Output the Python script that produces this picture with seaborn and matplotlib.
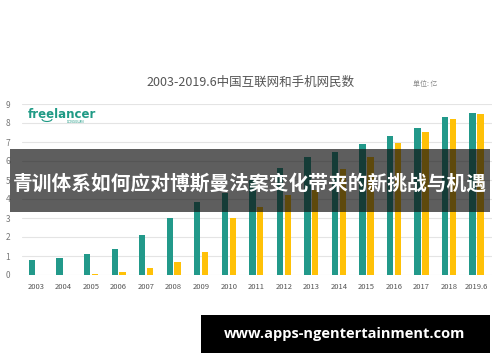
import matplotlib
matplotlib.use("Agg")
import matplotlib.pyplot as plt
from matplotlib.patches import Rectangle, Arc
import seaborn as sns
import pandas as pd

years = ['2003', '2004', '2005', '2006', '2007', '2008', '2009', '2010', '2011',
         '2012', '2013', '2014', '2015', '2016', '2017', '2018', '2019.6']
internet_users = [0.78, 0.92, 1.10, 1.36, 2.08, 2.98, 3.85, 4.30, 5.00,
                  5.65, 6.19, 6.50, 6.88, 7.32, 7.72, 8.29, 8.55]
mobile_users = [0.0, 0.0, 0.06, 0.14, 0.38, 0.67, 1.20, 3.02, 3.56,
                4.21, 4.50, 5.57, 6.22, 6.96, 7.54, 8.19, 8.49]
yticks = list(range(0, 10))

title_text = "2003-2019.6中国互联网和手机网民数"
unit_text = "单位: 亿"
banner_text = "青训体系如何应对博斯曼法案变化带来的新挑战与机遇"
url_text = "www.apps-ngentertainment.com"

df = pd.DataFrame({
    "year": years * 2,
    "value": internet_users + mobile_users,
    "series": ["网民"] * len(years) + ["手机网民"] * len(years),
})

sns.set_theme(style="white")
plt.rcParams['font.family'] = ['Noto Sans CJK SC', 'DejaVu Sans']

W, H = 500, 362
fig = plt.figure(figsize=(W / 100, H / 100), dpi=100)
fig.patch.set_facecolor("white")
ax = fig.add_axes([22 / W, 1 - 275 / H, 470 / W, 171 / H])

sns.barplot(data=df, x="year", y="value", hue="series",
            palette=["#22998a", "#ffc107"], width=0.57, gap=0.19,
            saturation=1, legend=False, ax=ax, zorder=3,
            linewidth=0, edgecolor="none")

ax.set_ylim(0, 9)
ax.set_xlim(-0.51, 16.56)
ax.set_yticks(yticks)
for y in yticks:
    ax.axhline(y, color="#e4e4e4", lw=0.8, zorder=1)
for s in ax.spines.values():
    s.set_visible(False)
ax.set_xlabel("")
ax.set_ylabel("")
ax.tick_params(axis="both", length=0)
ax.tick_params(axis="x", labelsize=5.5, labelcolor="#555555", pad=6)
ax.tick_params(axis="y", labelsize=6, labelcolor="#777777", pad=12)
for lab in ax.get_yticklabels():
    lab.set_horizontalalignment("left")

# title and unit
fig.text(251 / W, 1 - 82 / H, title_text, ha="center", va="center",
         fontsize=9, color="#555555")
fig.text(413 / W, 1 - 84 / H, unit_text, ha="left", va="center",
         fontsize=5, color="#888888")

# freelancer logo
fig.text(28 / W, 1 - 114 / H, "freelancer", ha="left", va="center",
         fontsize=8.5, fontweight="bold", color="#1f9a85",
         family=["DejaVu Sans"])
fig.text(67 / W, 1 - 122 / H, "DONGGUAN", ha="left", va="center",
         fontsize=2.2, color="#1f9a85", family=["DejaVu Sans"])
fig.add_artist(Arc((47 / W, 1 - 119 / H), 10 / W, 5 / H, theta1=180, theta2=360,
                   transform=fig.transFigure, color="#1f9a85", lw=0.8))

# banner overlay
fig.add_artist(Rectangle((10 / W, 1 - 212 / H), 480 / W, 63 / H,
                         transform=fig.transFigure, facecolor="#0f0f0f",
                         alpha=0.67, edgecolor="none", zorder=10))
fig.text(250 / W, 1 - 184 / H, banner_text, ha="center", va="center",
         fontsize=14.2, fontweight="bold", color="white", zorder=11)

# url box
fig.add_artist(Rectangle((201 / W, 1 - 353 / H), 289 / W, 38 / H,
                         transform=fig.transFigure, facecolor="black",
                         edgecolor="none", zorder=10))
fig.text(345 / W, 1 - 334 / H, url_text, ha="center", va="center",
         fontsize=10.5, fontweight="bold", color="white", zorder=11,
         family=["Open Sans", "DejaVu Sans"])

fig.savefig("out.png", dpi=100, facecolor="white")
